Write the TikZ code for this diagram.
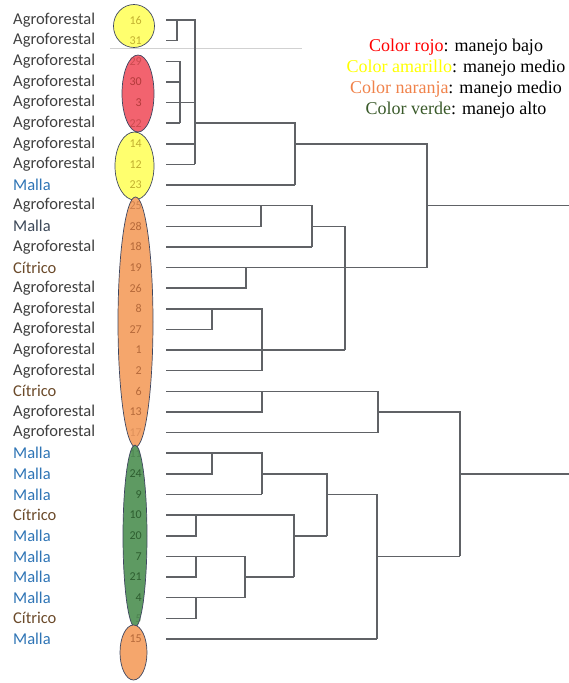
\documentclass[tikz,border=0pt]{standalone}
\usepackage{fontspec}
\setmainfont{Carlito}
\newfontfamily\legfont{Liberation Serif}
\definecolor{linegray}{HTML}{606266}
\definecolor{rimc}{HTML}{3E4660}
\definecolor{agro}{HTML}{404040}
\definecolor{malla}{HTML}{2E74B5}
\definecolor{mallad}{HTML}{3C4858}
\definecolor{citri}{HTML}{6B4A2A}
\definecolor{fyel}{HTML}{FFFF6E}
\definecolor{fred}{HTML}{F2636F}
\definecolor{fora}{HTML}{F5A66C}
\definecolor{fgre}{HTML}{5E9A62}
\definecolor{nyel}{HTML}{C2B030}
\definecolor{nred}{HTML}{B23A3A}
\definecolor{nora}{HTML}{B5693A}
\definecolor{ngre}{HTML}{2E5E30}
\definecolor{legred}{HTML}{FF0000}
\definecolor{legyel}{HTML}{FFFF00}
\definecolor{legora}{HTML}{F0824A}
\definecolor{leggre}{HTML}{3A5A2A}
\begin{document}
\begin{tikzpicture}[x=1pt,y=-1pt,
  lbl/.style={anchor=west,inner sep=0pt,font=\fontsize{16.5}{19}\selectfont},
  num/.style={anchor=east,inner sep=0pt,font=\fontsize{12}{14}\selectfont},
  grp/.style={draw=rimc,line width=0.7pt},
  dend/.style={draw=linegray,line width=1.5pt},
  leg/.style={inner sep=0pt,font=\legfont\fontsize{18}{21}\selectfont}]
\useasboundingbox (0,0) rectangle (569,683);
% faint rule of the pasted table
\draw [color=black!18, line width=0.8pt] (110,48) -- (302,48);
% group ellipses
\path [grp, fill=fyel] (134,26) ellipse (20.5 and 21.5);
\path [grp, fill=fred] (138,93.5) ellipse (16 and 38.5);
\path [grp, fill=fyel] (134.5,166) ellipse (19.5 and 34);
\path [grp, fill=fora] (135.5,322) ellipse (17.5 and 125);
\path [grp, fill=fgre] (135,536) ellipse (12 and 91);
\path [grp, fill=fora] (133.5,652.5) ellipse (13.5 and 27.5);
% leaf labels
\node [lbl, color=agro] (lab1) at (13,20) {Agroforestal};
\node [lbl, color=agro] (lab2) at (13,40.63) {Agroforestal};
\node [lbl, color=agro] (lab3) at (13,61.26) {Agroforestal};
\node [lbl, color=agro] (lab4) at (13,81.89) {Agroforestal};
\node [lbl, color=agro] (lab5) at (13,102.52) {Agroforestal};
\node [lbl, color=agro] (lab6) at (13,123.15) {Agroforestal};
\node [lbl, color=agro] (lab7) at (13,143.78) {Agroforestal};
\node [lbl, color=agro] (lab8) at (13,164.41) {Agroforestal};
\node [lbl, color=malla] (lab9) at (13,185.04) {Malla};
\node [lbl, color=agro] (lab10) at (13,205.67) {Agroforestal};
\node [lbl, color=mallad] (lab11) at (13,226.3) {Malla};
\node [lbl, color=agro] (lab12) at (13,246.93) {Agroforestal};
\node [lbl, color=citri] (lab13) at (13,267.56) {Cítrico};
\node [lbl, color=agro] (lab14) at (13,288.19) {Agroforestal};
\node [lbl, color=agro] (lab15) at (13,308.82) {Agroforestal};
\node [lbl, color=agro] (lab16) at (13,329.45) {Agroforestal};
\node [lbl, color=agro] (lab17) at (13,350.08) {Agroforestal};
\node [lbl, color=agro] (lab18) at (13,370.71) {Agroforestal};
\node [lbl, color=citri] (lab19) at (13,391.34) {Cítrico};
\node [lbl, color=agro] (lab20) at (13,411.97) {Agroforestal};
\node [lbl, color=agro] (lab21) at (13,432.6) {Agroforestal};
\node [lbl, color=malla] (lab22) at (13,453.23) {Malla};
\node [lbl, color=malla] (lab23) at (13,473.86) {Malla};
\node [lbl, color=malla] (lab24) at (13,494.49) {Malla};
\node [lbl, color=citri] (lab25) at (13,515.12) {Cítrico};
\node [lbl, color=malla] (lab26) at (13,535.75) {Malla};
\node [lbl, color=malla] (lab27) at (13,556.38) {Malla};
\node [lbl, color=malla] (lab28) at (13,577.01) {Malla};
\node [lbl, color=malla] (lab29) at (13,597.64) {Malla};
\node [lbl, color=citri] (lab30) at (13,618.27) {Cítrico};
\node [lbl, color=malla] (lab31) at (13,638.9) {Malla};
% numbers inside the ellipses
\node [num, color=nyel] (n1) at (142,20) {16};
\node [num, color=nyel] (n2) at (142,40.63) {31};
\node [num, color=nred, opacity=0.6] (n3) at (142,61.26) {29};
\node [num, color=nred] (n4) at (142,81.89) {30};
\node [num, color=nred] (n5) at (142,102.52) {3};
\node [num, color=nred, opacity=0.6] (n6) at (142,123.15) {22};
\node [num, color=nyel] (n7) at (142,143.78) {14};
\node [num, color=nyel] (n8) at (142,164.41) {12};
\node [num, color=nyel] (n9) at (142,185.04) {23};
\node [num, color=nora, opacity=0.6] (n10) at (142,205.67) {25};
\node [num, color=nora] (n11) at (142,226.3) {28};
\node [num, color=nora] (n12) at (142,246.93) {18};
\node [num, color=nora] (n13) at (142,267.56) {19};
\node [num, color=nora] (n14) at (142,288.19) {26};
\node [num, color=nora] (n15) at (142,308.82) {8};
\node [num, color=nora] (n16) at (142,329.45) {27};
\node [num, color=nora] (n17) at (142,350.08) {1};
\node [num, color=nora] (n18) at (142,370.71) {2};
\node [num, color=nora] (n19) at (142,391.34) {6};
\node [num, color=nora] (n20) at (142,411.97) {13};
\node [num, color=nora, opacity=0.35] (n21) at (142,432.6) {17};
\node [num, color=ngre, opacity=0.35] (n22) at (142,453.23) {11};
\node [num, color=ngre] (n23) at (142,473.86) {24};
\node [num, color=ngre] (n24) at (142,494.49) {9};
\node [num, color=ngre] (n25) at (142,515.12) {10};
\node [num, color=ngre] (n26) at (142,535.75) {20};
\node [num, color=ngre] (n27) at (142,556.38) {7};
\node [num, color=ngre] (n28) at (142,577.01) {21};
\node [num, color=ngre] (n29) at (142,597.64) {4};
\node [num, color=ngre, opacity=0.35] (n30) at (142,618.27) {5};
\node [num, color=nora] (n31) at (142,638.9) {15};
% leaf ends of the tree
\coordinate (l1) at (166,20);
\coordinate (l2) at (166,40.63);
\coordinate (l3) at (166,61.26);
\coordinate (l4) at (166,81.89);
\coordinate (l5) at (166,102.52);
\coordinate (l6) at (166,123.15);
\coordinate (l7) at (166,143.78);
\coordinate (l8) at (166,164.41);
\coordinate (l9) at (166,185.04);
\coordinate (l10) at (166,205.67);
\coordinate (l11) at (166,226.3);
\coordinate (l12) at (166,246.93);
\coordinate (l13) at (166,267.56);
\coordinate (l14) at (166,288.19);
\coordinate (l15) at (166,308.82);
\coordinate (l16) at (166,329.45);
\coordinate (l17) at (166,350.08);
\coordinate (l18) at (166,370.71);
\coordinate (l19) at (166,391.34);
\coordinate (l20) at (166,411.97);
\coordinate (l21) at (166,432.6);
\coordinate (l22) at (166,453.23);
\coordinate (l23) at (166,473.86);
\coordinate (l24) at (166,494.49);
\coordinate (l25) at (166,515.12);
\coordinate (l26) at (166,535.75);
\coordinate (l27) at (166,556.38);
\coordinate (l28) at (166,577.01);
\coordinate (l29) at (166,597.64);
\coordinate (l30) at (166,618.27);
\coordinate (l31) at (166,638.9);
% upper block
\path [dend] (l1) -- (195,20) -- (195,164.41);
\path [dend] (l2) -- (177,40.63) -- (177,20);
\path [dend] (l3) -- (180,61.26) -- (180,123.15);
\path [dend] (l4) -- (180,81.89);
\path [dend] (l5) -- (195,102.52);
\path [dend] (l6) -- (180,123.15);
\path [dend] (l7) -- (195,143.78);
\path [dend] (l8) -- (195,164.41);
\path [dend] (195,123.15) -- (295,123.15) -- (295,185.04);
\path [dend] (l9) -- (295,185.04);
\path [dend] (295,143.78) -- (427,143.78) -- (427,267.56);
\path [dend] (427,205.67) -- (569,205.67);
\path [dend] (l10) -- (312,205.67) -- (312,246.93);
\path [dend] (l11) -- (261,226.3) -- (261,205.67);
\path [dend] (l12) -- (312,246.93);
\path [dend] (312,226.3) -- (345,226.3) -- (345,350.08);
\path [dend] (l13) -- (427,267.56);
\path [dend] (l14) -- (246,288.19) -- (246,267.56);
\path [dend] (l15) -- (262,308.82) -- (262,370.71);
\path [dend] (l16) -- (212,329.45) -- (212,308.82);
\path [dend] (l17) -- (345,350.08);
\path [dend] (l18) -- (262,370.71);
% lower block
\path [dend] (l19) -- (378,391.34) -- (378,432.6);
\path [dend] (l20) -- (262,411.97) -- (262,391.34);
\path [dend] (l21) -- (378,432.6);
\path [dend] (378,411.97) -- (460,411.97) -- (460,556.38);
\path [dend] (460,473.86) -- (569,473.86);
\path [dend] (l22) -- (262,453.23) -- (262,494.49);
\path [dend] (l23) -- (212,473.86) -- (212,453.23);
\path [dend] (l24) -- (262,494.49);
\path [dend] (262,473.86) -- (327,473.86) -- (327,535.75);
\path [dend] (327,494.49) -- (377,494.49) -- (377,638.9);
\path [dend] (377,556.38) -- (460,556.38);
\path [dend] (l25) -- (294,515.12) -- (294,577.01);
\path [dend] (l26) -- (196,535.75) -- (196,515.12);
\path [dend] (294,535.75) -- (327,535.75);
\path [dend] (l27) -- (245,556.38) -- (245,597.64);
\path [dend] (l28) -- (196,577.01) -- (196,556.38);
\path [dend] (245,577.01) -- (294,577.01);
\path [dend] (l29) -- (245,597.64);
\path [dend] (l30) -- (196,618.27) -- (196,597.64);
\path [dend] (l31) -- (377,638.9);
% legend
\node [leg] (k1) at (456,47) {\textcolor{legred}{Color rojo}: manejo bajo};
\node [leg] (k2) at (456,68) {\textcolor{legyel}{Color amarillo}: manejo medio};
\node [leg] (k3) at (456,89.5) {\textcolor{legora}{Color naranja}: manejo medio};
\node [leg] (k4) at (456,110.5) {\textcolor{leggre}{Color verde}: manejo alto};
\end{tikzpicture}
\end{document}
